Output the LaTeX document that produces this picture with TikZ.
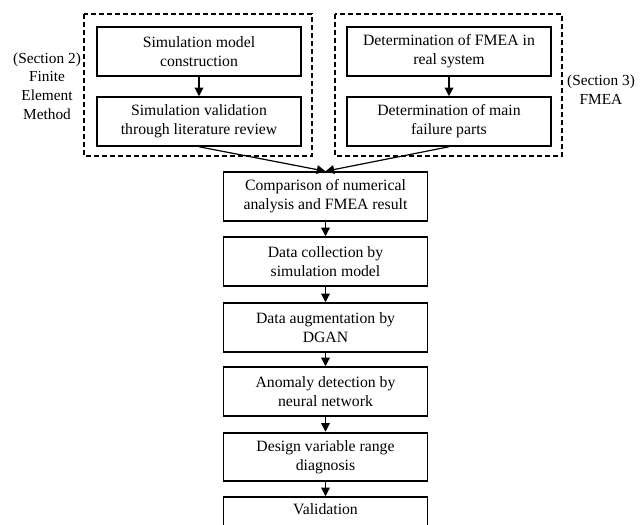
\documentclass[tikz,border=0pt]{standalone}
\usepackage{fontspec}
\setmainfont{Liberation Serif}
\usetikzlibrary{arrows.meta, positioning}
\tikzset{
    stepbox/.style={
        rectangle, draw=black, fill=white, line width=1.4pt, align=center,
        minimum width=153pt, minimum height=36.5pt, inner sep=1pt,
        font=\fontsize{11.8pt}{14.2pt}\selectfont
    },
    groupbox/.style={rectangle, draw=black, dash pattern=on 3.5pt off 2.5pt, line width=0.8pt},
    sidelabel/.style={align=center, font=\fontsize{11.5pt}{14pt}\selectfont},
    arrow/.style={-{Triangle[length=6.5pt, width=6.5pt]}, line width=0.9pt},
}
\begin{document}
\begin{tikzpicture}[x=0.75pt, y=-0.75pt]
                \useasboundingbox (0, 0) rectangle (644, 525);
                % Groups
                \draw[groupbox] (84, 14) rectangle (312, 156);
                \draw[groupbox] (335, 14) rectangle (562, 156);
                \node[sidelabel] (lblfem) at (47, 86) {(Section 2)\\Finite\\Element\\Method};
                \node[sidelabel] (lblfmea) at (601, 90) {(Section 3)\\FMEA};
                
                % Steps in groups
                \node[stepbox] (simmodel) at (199, 51.5) {Simulation model\\construction};
                \node[stepbox] (simvalid) at (199, 121.5) {Simulation validation\\through literature review};
                \node[stepbox] (fmeareal) at (449, 51.5) {Determination of FMEA in\\real system};
                \node[stepbox] (failparts) at (449, 121.5) {Determination of main\\failure parts};
                
                % Main flow
                \node[stepbox] (compare) at (325.5, 196.5) {Comparison of numerical\\analysis and FMEA result};
                \node[stepbox] (collect) at (325.5, 261.5) {Data collection by\\simulation model};
                \node[stepbox] (augment) at (325.5, 327.5) {Data augmentation by\\DGAN};
                \node[stepbox] (anomaly) at (325.5, 391.5) {Anomaly detection by\\neural network};
                \node[stepbox] (design) at (325.5, 457) {Design variable range\\diagnosis};
                \node[stepbox] (valid) at (325.5, 521.5) {Validation\\\strut};
                
                % Arrows
                \draw[arrow] (simmodel) -- (simvalid);
                \draw[arrow] (fmeareal) -- (failparts);
                \draw[arrow] (simvalid.south) -- (compare.north);
                \draw[arrow] (failparts.south) -- (compare.north);
                \draw[arrow] (compare) -- (collect);
                \draw[arrow] (collect) -- (augment);
                \draw[arrow] (augment) -- (anomaly);
                \draw[arrow] (anomaly) -- (design);
                \draw[arrow] (design) -- (valid);
\end{tikzpicture}
\end{document}
